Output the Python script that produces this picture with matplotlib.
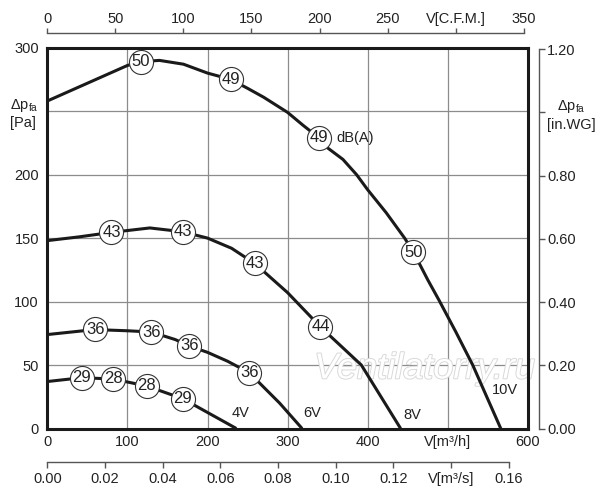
import matplotlib
matplotlib.use("Agg")
import matplotlib.pyplot as plt
import matplotlib.patheffects as pe

plt.rcParams["font.family"] = ["Liberation Sans", "DejaVu Sans"]
plt.rcParams["mathtext.default"] = "regular"

# fan curves, airflow m3/h vs static pressure Pa
q_10v = [0, 50, 100, 117, 140, 170, 200, 229, 250, 270, 300, 319, 339, 350, 369, 386,
         400, 423, 446, 457, 475, 489, 510, 531, 566]
p_10v = [258, 272, 286, 289, 290, 287, 280, 275, 268, 261, 249, 239, 229, 221, 212, 200,
         188, 170, 150, 139, 117, 101, 76, 50, 0]
q_8v = [0, 40, 80, 128, 169, 200, 230, 259, 300, 341, 392, 441]
p_8v = [148, 151, 154.5, 158, 155, 150, 142, 130, 107, 80, 50, 0]
q_6v = [0, 60, 78, 100, 130, 160, 177, 200, 225, 252, 290, 318]
p_6v = [74, 78, 77.5, 77, 76, 70, 65, 60, 53, 44, 20, 0]
q_4v = [0, 43, 82, 124, 169, 236]
p_4v = [37, 40, 39, 33.5, 23.5, 0]

# noise levels dB(A) along each curve
db_10v = [(117, 289, "50"), (229, 275, "49"), (339, 229, "49"), (457, 139, "50")]
db_8v = [(80, 154.5, "43"), (169, 155, "43"), (259, 130, "43"), (341, 80, "44")]
db_6v = [(60, 78, "36"), (130, 76, "36"), (177, 65, "36"), (252, 44, "36")]
db_4v = [(43, 40, "29"), (82, 39, "28"), (124, 33.5, "28"), (169, 23.5, "29")]

volt_labels = [(241, 12, "4V"), (331, 12, "6V"), (455, 11, "8V"), (571, 30, "10V")]

M3H_PER_CFM = 1.699
PA_PER_INWG = 249.089
fs = 10.5
tc = "#222222"

fig = plt.figure(figsize=(6, 5), dpi=100)
L, B, W, H = 0.0788, 0.143, 0.8012, 0.7616
ax = fig.add_axes([L, B, W, H])
ax.set_xlim(0, 600)
ax.set_ylim(0, 300)
for s in ax.spines.values():
    s.set_linewidth(2.2)
    s.set_color("#1a1a1a")
ax.grid(True, color="#8c8c8c", linewidth=0.9)
ax.set_axisbelow(True)

ax.set_xticks([0, 100, 200, 300, 400, 500, 600])
ax.set_xticklabels(["0", "100", "200", "300", "400", "V[m³/h]", "600"])
ax.set_yticks([0, 50, 100, 150, 200, 250, 300])
ax.set_yticklabels(["0", "50", "100", "150", "200", "Δp$_{\\mathregular{fa}}$\n[Pa]", "300"])
ax.tick_params(length=0, labelsize=fs, labelcolor=tc)
ax.tick_params(axis="x", pad=5)
ax.tick_params(axis="y", pad=6)
for lab in ax.get_yticklabels():
    lab.set_multialignment("left")

ax.text(471, 47, "Ventilatorry.ru", fontsize=26, style="italic", color="white",
        ha="center", va="center", zorder=1.5,
        path_effects=[pe.withStroke(linewidth=1.4, foreground="#d9d9d9")])

for q, p in [(q_10v, p_10v), (q_8v, p_8v), (q_6v, p_6v), (q_4v, p_4v)]:
    ax.plot(q, p, color="#1a1a1a", linewidth=2.2, zorder=3, solid_capstyle="butt",
            solid_joinstyle="round")

for pts in [db_10v, db_8v, db_6v, db_4v]:
    xs = [v[0] for v in pts]
    ys = [v[1] for v in pts]
    ax.scatter(xs, ys, s=300, facecolor="white", edgecolor="#333333",
               linewidths=0.8, zorder=4, clip_on=False)
    for x, y, t in pts:
        ax.text(x, y, t, fontsize=12, ha="center", va="center", color=tc, zorder=5)

ax.text(361, 229, "dB(A)", fontsize=fs, ha="left", va="center", color=tc, zorder=5)
for x, y, t in volt_labels:
    ax.text(x, y, t, fontsize=fs, ha="center", va="center", color=tc, zorder=5)

# top axis C.F.M.
ax_cfm = fig.add_axes([L, 1 - 33 / 500, W, 0])
ax_cfm.set_xlim(0, 600 / M3H_PER_CFM)
ax_cfm.patch.set_visible(False)
for k in ["left", "right", "bottom"]:
    ax_cfm.spines[k].set_visible(False)
ax_cfm.spines["top"].set_bounds(0, 350)
ax_cfm.spines["top"].set_color("#555555")
ax_cfm.spines["top"].set_linewidth(1)
ax_cfm.xaxis.tick_top()
ax_cfm.set_xticks([0, 50, 100, 150, 200, 250, 300, 350])
ax_cfm.set_xticklabels(["0", "50", "100", "150", "200", "250", "V[C.F.M.]", "350"])
ax_cfm.tick_params(axis="x", direction="out", length=3.5, width=1, color="#555555",
                   labelsize=fs, labelcolor=tc, pad=1.5)
ax_cfm.set_yticks([])

# bottom axis m3/s
ax_s = fig.add_axes([L, 1 - 462.3 / 500, W, 0])
ax_s.set_xlim(0, 600 / 3600)
ax_s.patch.set_visible(False)
for k in ["left", "right", "top"]:
    ax_s.spines[k].set_visible(False)
ax_s.spines["bottom"].set_bounds(0, 0.16)
ax_s.spines["bottom"].set_color("#555555")
ax_s.spines["bottom"].set_linewidth(1)
ax_s.set_xticks([0, 0.02, 0.04, 0.06, 0.08, 0.10, 0.12, 0.14, 0.16])
ax_s.set_xticklabels(["0.00", "0.02", "0.04", "0.06", "0.08", "0.10", "0.12", "V[m³/s]", "0.16"])
ax_s.tick_params(axis="x", direction="out", length=4, width=1, color="#555555",
                 labelsize=fs, labelcolor=tc, pad=3)
ax_s.set_yticks([])

# right axis in.WG
ax_wg = fig.add_axes([539 / 600, B, 0, H])
ax_wg.set_ylim(0, 300 / PA_PER_INWG)
ax_wg.patch.set_visible(False)
for k in ["left", "top", "bottom"]:
    ax_wg.spines[k].set_visible(False)
ax_wg.spines["right"].set_bounds(0, 1.2)
ax_wg.spines["right"].set_color("#555555")
ax_wg.spines["right"].set_linewidth(1)
ax_wg.yaxis.tick_right()
ax_wg.set_yticks([0, 0.2, 0.4, 0.6, 0.8, 1.0, 1.2])
ax_wg.set_yticklabels(["0.00", "0.20", "0.40", "0.60", "0.80",
                       "Δp$_{\\mathregular{fa}}$\n[in.WG]", "1.20"])
ax_wg.tick_params(axis="y", direction="out", length=4, width=1, color="#555555",
                  labelsize=fs, labelcolor=tc, pad=2)
for lab in ax_wg.get_yticklabels():
    lab.set_multialignment("center")
ax_wg.set_xticks([])

fig.savefig("out.png", dpi=100)
